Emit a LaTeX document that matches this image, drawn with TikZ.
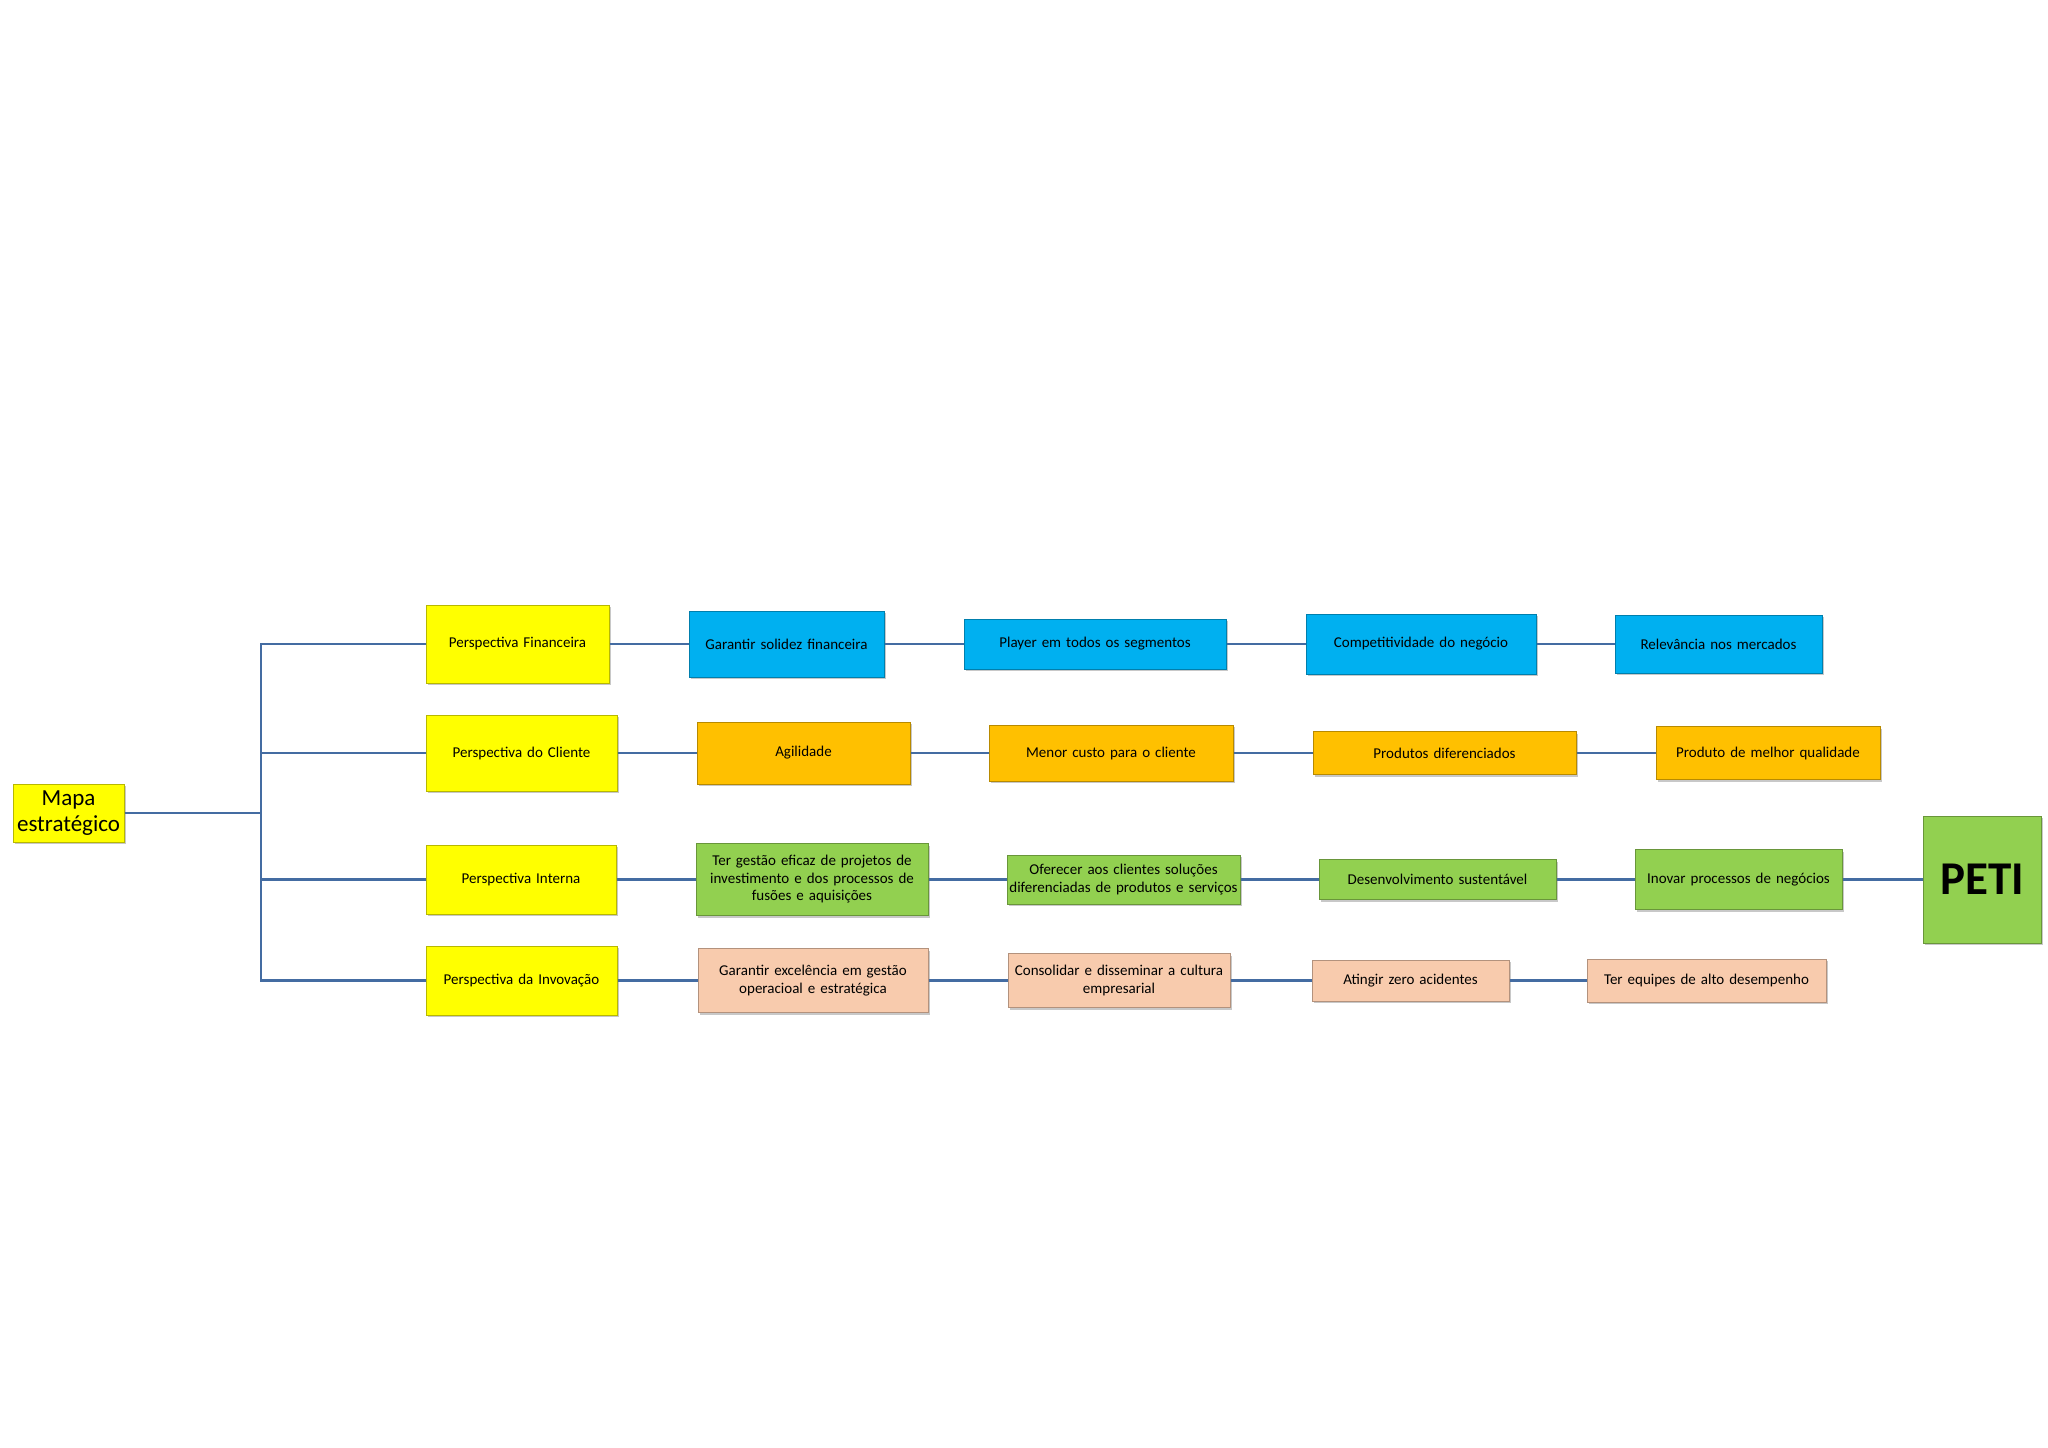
\documentclass[tikz,border=0pt]{standalone}
\usepackage{fontspec}
\setmainfont{Carlito}
\usetikzlibrary{shadows}
\definecolor{cyel}{RGB}{255,255,0}
\definecolor{cblue}{RGB}{0,176,240}
\definecolor{corange}{RGB}{255,192,0}
\definecolor{cgreen}{RGB}{146,208,80}
\definecolor{cpeach}{RGB}{248,203,173}
\definecolor{cline}{RGB}{68,108,162}
\tikzset{
  box/.style={draw=#1!72!black, fill=#1, line width=1pt, inner sep=2pt, align=center,
    font=\fontsize{15}{17.5}\selectfont,
    drop shadow={shadow xshift=2pt, shadow yshift=-2pt, opacity=0.3, fill=black!70}},
  wire/.style={draw=cline, line width=2.5pt}
}
\newcommand{\bx}[7]{\node[box=#1, minimum width=#4pt, minimum height=#5pt, text width=#6pt] (#2) at (#3) {#7};}
\begin{document}
\begin{tikzpicture}[x=1pt,y=-1pt]
\fill[white] (0,0) rectangle (2048,1448);
\useasboundingbox (0,0) rectangle (2048,1448);
% root
\node[box=cyel, minimum width=111pt, minimum height=58pt, text width=107pt, font=\fontsize{23}{26}\selectfont] (mapa) at (68.5,813) {Mapa\\estratégico};
% perspectives
\bx{cyel}{pf}{517.5,644}{183}{78}{175}{Perspectiva Financeira}
\bx{cyel}{pc}{521.5,753}{191}{76}{183}{Perspectiva do Cliente}
\bx{cyel}{pi}{521,879.5}{190}{69}{182}{Perspectiva Interna}
\bx{cyel}{pv}{521.5,980.5}{191}{69}{183}{Perspectiva da Invovação}
% financial row
\bx{cblue}{f1}{786.5,644}{195}{66}{187}{Garantir solidez financeira}
\bx{cblue}{f2}{1095,644}{262}{50}{254}{Player em todos os segmentos}
\bx{cblue}{f3}{1421,644}{230}{60}{222}{Competitividade do negócio}
\bx{cblue}{f4}{1718.5,644}{207}{58}{199}{Relevância nos mercados}
% client row
\bx{corange}{c1}{803.5,753}{213}{62}{205}{Agilidade}
\bx{corange}{c2}{1111,753}{244}{56}{236}{Menor custo para o cliente}
\bx{corange}{c3}{1444.5,753}{263}{43}{255}{Produtos diferenciados}
\bx{corange}{c4}{1768,753}{224}{53}{216}{Produto de melhor qualidade}
% internal row
\bx{cgreen}{i1}{812,879.5}{232}{72}{224}{Ter gestão eficaz de projetos de\\investimento e dos processos de\\fusões e aquisições}
\bx{cgreen}{i2}{1123.5,879.5}{231}{49}{229}{Oferecer aos clientes soluções\\diferenciadas de produtos e serviços}
\bx{cgreen}{i3}{1437.5,879.5}{237}{40}{229}{Desenvolvimento sustentável}
\bx{cgreen}{i4}{1738.5,879.5}{207}{60}{199}{Inovar processos de negócios}
\node[box=cgreen, minimum width=118pt, minimum height=127pt, text width=110pt, font=\fontsize{47}{50}\selectfont\bfseries] (peti) at (1982,879.5) {PETI};
% innovation row
\bx{cpeach}{v1}{813,980.5}{230}{64}{222}{Garantir excelência em gestão\\operacioal e estratégica}
\bx{cpeach}{v2}{1119,980.5}{222}{54}{214}{Consolidar e disseminar a cultura\\empresarial}
\bx{cpeach}{v3}{1410.5,980.5}{197}{41}{189}{Atingir zero acidentes}
\bx{cpeach}{v4}{1706.5,980.5}{239}{43}{231}{Ter equipes de alto desempenho}
% trunk
\coordinate (trunk) at (261,813);
\draw[wire] (mapa.east) -- (trunk);
\draw[wire] (pf.west) -| (trunk) |- (pv.west);
\draw[wire] (pc.west) -- (pc.west -| trunk);
\draw[wire] (pi.west) -- (pi.west -| trunk);
% rows
\draw[wire] (pf.east) -- (f1.west) (f1.east) -- (f2.west) (f2.east) -- (f3.west) (f3.east) -- (f4.west);
\draw[wire] (pc.east) -- (c1.west) (c1.east) -- (c2.west) (c2.east) -- (c3.west) (c3.east) -- (c4.west);
\draw[wire] (pi.east) -- (i1.west) (i1.east) -- (i2.west) (i2.east) -- (i3.west) (i3.east) -- (i4.west) (i4.east) -- (peti.west);
\draw[wire] (pv.east) -- (v1.west) (v1.east) -- (v2.west) (v2.east) -- (v3.west) (v3.east) -- (v4.west);
\end{tikzpicture}
\end{document}
